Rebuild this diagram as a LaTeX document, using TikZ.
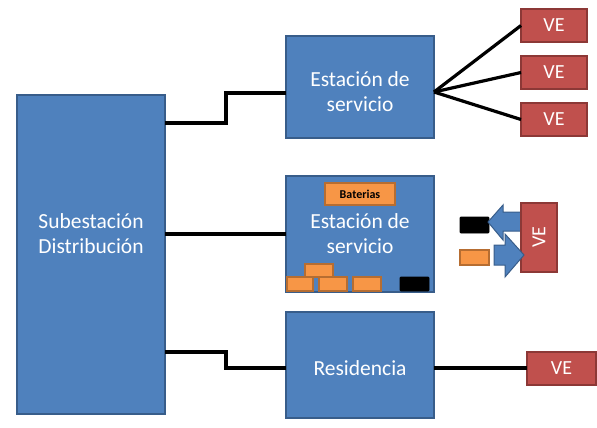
\documentclass[tikz,border=0pt]{standalone}
\usepackage{fontspec}
\setmainfont{Carlito}
\definecolor{obl}{HTML}{4F81BD}
\definecolor{obld}{HTML}{385D8A}
\definecolor{ored}{HTML}{C0504D}
\definecolor{oredd}{HTML}{8C3836}
\definecolor{oor}{HTML}{F79646}
\definecolor{oord}{HTML}{B66D31}
\tikzset{
  bluebox/.style={draw=obld, fill=obl, line width=1.2pt},
  vebox/.style={draw=oredd, fill=ored, line width=1.2pt},
  orbox/.style={draw=oord, fill=oor, line width=1.2pt},
  blkbox/.style={draw=black, fill=black, line width=0.8pt, rounded corners=1pt},
  wire/.style={draw=black, line width=3.2pt},
  lbl/.style={text=white, font=\fontsize{21.5}{25}\selectfont, align=center},
  velbl/.style={text=white, font=\fontsize{20}{22}\selectfont},
  barr/.style={draw=obld, fill=obl, line width=1pt}
}
\begin{document}
\begin{tikzpicture}[x=1pt,y=-1pt]
\useasboundingbox (0,0) rectangle (597,428);
% main boxes
\draw[bluebox] (17,95) rectangle (165,414);
\node[lbl] (sub) at (91,234) {Subestación\\Distribución};
\draw[bluebox] (286,36) rectangle (434,138);
\node[lbl] (es1) at (360,92) {Estación de\\servicio};
\draw[bluebox] (286,176) rectangle (434,292);
\node[lbl] (es2) at (360,234) {Estación de\\servicio};
\draw[bluebox] (286,312) rectangle (434,418);
\node[lbl] (res) at (360,368) {Residencia};
% coordinates
\coordinate (s1) at (165,123);
\coordinate (s2) at (165,234);
\coordinate (s3) at (165,352);
\coordinate (e1) at (286,93);
\coordinate (e2) at (286,234);
\coordinate (e3) at (286,368);
\coordinate (f) at (434,92);
\coordinate (r) at (434,368);
% VE boxes
\draw[vebox] (521,9) rectangle (587,42);
\node[velbl] (ve1) at (554,25.5) {VE};
\draw[vebox] (521,56) rectangle (587,89);
\node[velbl] (ve2) at (554,72.5) {VE};
\draw[vebox] (521,103) rectangle (587,136);
\node[velbl] (ve3) at (554,119.5) {VE};
\draw[vebox] (527,352) rectangle (596,385);
\node[velbl] (ve4) at (561.5,368) {VE};
\coordinate (v1) at (521,25.5);
\coordinate (v2) at (521,72.5);
\coordinate (v3) at (521,119.5);
\coordinate (v4) at (527,368);
% wires
\draw[wire] (s1) -- (226,123) -- (226,93) -- (e1);
\draw[wire] (s2) -- (e2);
\draw[wire] (s3) -- (226,352) -- (226,368) -- (e3);
\draw[wire] (f) -- (v1);
\draw[wire] (f) -- (v2);
\draw[wire] (f) -- (v3);
\draw[wire] (r) -- (v4);
% station 2 details
\draw[orbox] (325,183) rectangle (395,205);
\node[font=\bfseries\fontsize{12}{13}\selectfont] (bat) at (360,194) {Baterias};
\draw[orbox] (305,264) rectangle (333,277);
\draw[orbox] (287,277) rectangle (313,291);
\draw[orbox] (319,277) rectangle (347,291);
\draw[orbox] (353,277) rectangle (381,291);
\draw[blkbox] (400,277) rectangle (429,291);
% right side
\draw[blkbox] (460,217) rectangle (489,233);
\draw[orbox] (460,250) rectangle (489,265);
\draw[barr] (488,222) -- (503,205) -- (503,212) -- (522,212) -- (522,231) -- (503,231) -- (503,240) -- cycle;
\draw[vebox] (521,203) rectangle (557,272);
\node[velbl, rotate=90] (ve5) at (539,237) {VE};
\draw[barr] (524,255) -- (505,234) -- (505,245) -- (494,245) -- (494,265) -- (505,265) -- (505,277) -- cycle;
\end{tikzpicture}
\end{document}
